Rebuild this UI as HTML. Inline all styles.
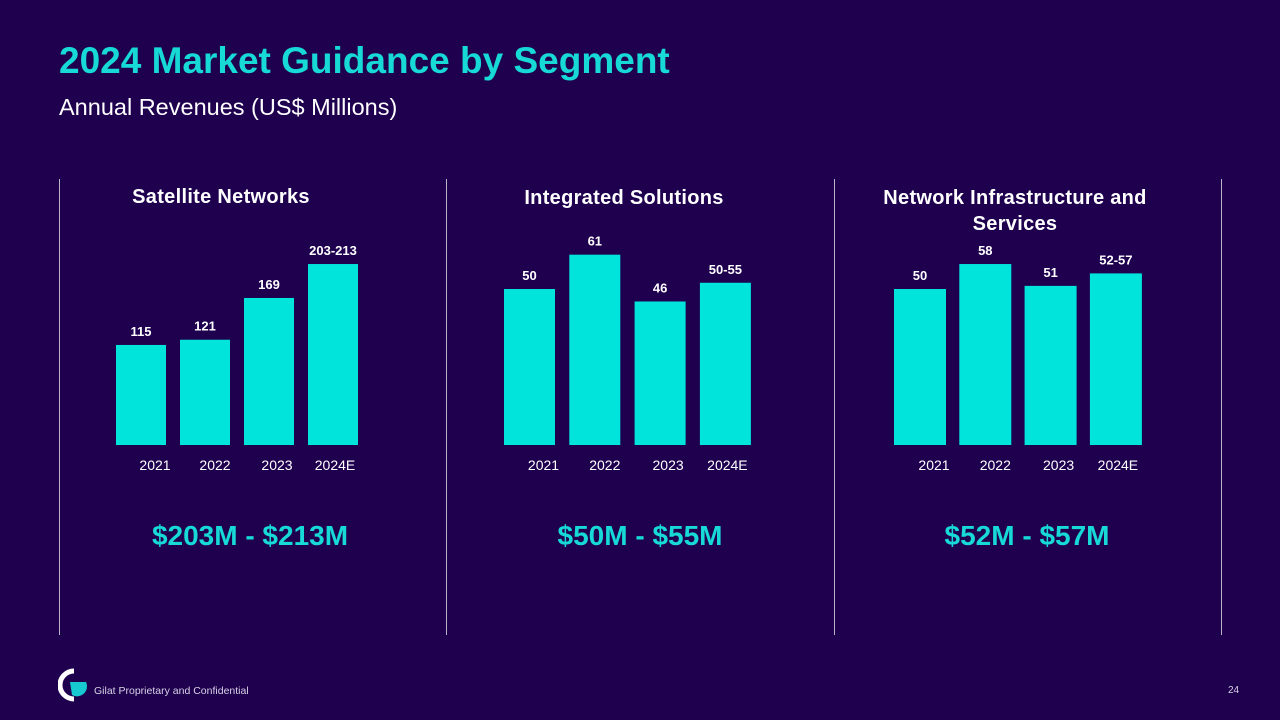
<!DOCTYPE html>
<html><head><meta charset="utf-8"><style>
body{margin:0;width:1280px;height:720px;background:#1e004f;overflow:hidden;font-family:"Liberation Sans",Arial,sans-serif;position:relative}
.abs{position:absolute}
.title{left:59px;top:40px;font-size:37px;font-weight:bold;color:#17d9d6;white-space:nowrap}
.sub{left:59px;top:94px;font-size:23.5px;color:#fff;white-space:nowrap}
.div{width:1px;top:179px;height:456px;background:#b9b5c8}
.ct{font-size:20px;font-weight:bold;color:#fff;text-align:center;width:320px;line-height:26px;letter-spacing:0.3px}
.big{font-size:28px;font-weight:bold;color:#17d9d6;text-align:center;width:320px;top:520px}
.foot{left:94px;top:685px;font-size:10.5px;color:#d8d2e6}
.pg{left:1228px;top:685px;font-size:10px;color:#d8d2e6}
</style></head><body>
<div class="abs title">2024 Market Guidance by Segment</div>
<div class="abs sub">Annual Revenues (US$ Millions)</div>
<div class="abs div" style="left:59px"></div>
<div class="abs div" style="left:446px"></div>
<div class="abs div" style="left:834px"></div>
<div class="abs div" style="left:1221px"></div>
<div class="abs ct" style="left:61px;top:184px">Satellite Networks</div>
<div class="abs ct" style="left:464px;top:185px">Integrated Solutions</div>
<div class="abs ct" style="left:855px;top:185px">Network Infrastructure and Services</div>
<div class="abs big" style="left:90px">$203M - $213M</div>
<div class="abs big" style="left:480px">$50M - $55M</div>
<div class="abs big" style="left:867px">$52M - $57M</div>
<svg class="abs" style="left:0;top:0" width="1280" height="720" id="charts"></svg>
<svg class="abs" style="left:58px;top:668px" width="32" height="34">
<path d="M16 3 A13 13 0 1 0 16 31" fill="none" stroke="#fff" stroke-width="5"/>
<path d="M12 14 L28 14 A10 10 0 0 1 14 27 Z" fill="#17c9d0"/>
</svg>
<div class="abs foot">Gilat Proprietary and Confidential</div>
<div class="abs pg">24</div>
<script>
const years=["2021","2022","2023","2024E"];
const satValues=[115,121,169,208];
const satLabels=["115","121","169","203-213"];
const intValues=[50,61,46,52];
const intLabels=["50","61","46","50-55"];
const netValues=[50,58,51,55];
const netLabels=["50","58","51","52-57"];
const NS="http://www.w3.org/2000/svg";
const svg=document.getElementById('charts');
function draw(name,vals,labels,x0,step,bw,scale){
  const base=445;
  vals.forEach((v,i)=>{
    const x=x0+i*step,h=v*scale;
    const r=document.createElementNS(NS,'rect');
    r.setAttribute('x',x);r.setAttribute('y',base-h);r.setAttribute('width',bw);r.setAttribute('height',h);r.setAttribute('fill','#00e4dc');
    
    
    svg.appendChild(r);
    const t=document.createElementNS(NS,'text');
    t.setAttribute('x',x+bw/2);t.setAttribute('y',base-h-9);t.setAttribute('text-anchor','middle');
    t.setAttribute('fill','#fff');t.setAttribute('font-size','13');t.setAttribute('font-weight','bold');t.setAttribute('font-family','Liberation Sans, Arial, sans-serif');
    t.textContent=labels[i];
    
    
    svg.appendChild(t);
    const y=document.createElementNS(NS,'text');
    y.setAttribute('x',x+bw/2+(i==0?14:i==1?10:i==2?8:2));y.setAttribute('y',470);y.setAttribute('text-anchor','middle');
    y.setAttribute('fill','#fff');y.setAttribute('font-size','14');y.setAttribute('font-family','Liberation Sans, Arial, sans-serif');
    y.textContent=years[i];
    
    
    svg.appendChild(y);
  });
}
draw('satellite',satValues,satLabels,116,64,50,0.87);
draw('integrated',intValues,intLabels,504,65.3,51,3.12);
draw('network',netValues,netLabels,894,65.3,52,3.12);
</script>
</body></html>
